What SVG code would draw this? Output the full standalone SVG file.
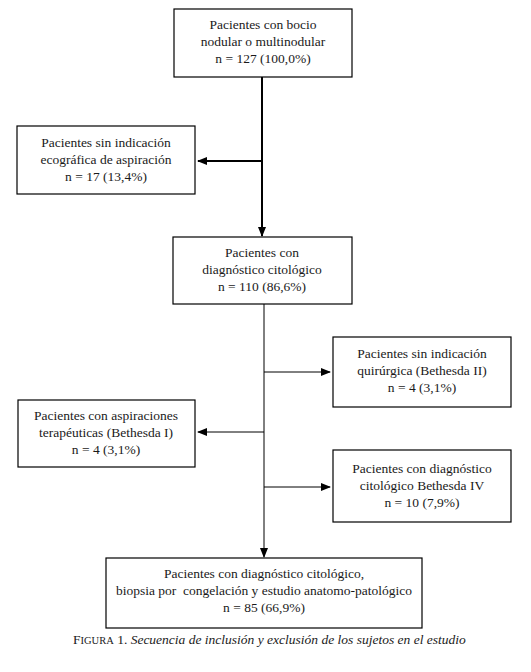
<svg xmlns="http://www.w3.org/2000/svg" width="531" height="672" viewBox="0 0 531 672">
<defs>
<marker id="ah" markerWidth="10" markerHeight="8" refX="9" refY="4" orient="auto" markerUnits="userSpaceOnUse"><path d="M0,0 L10,4 L0,8 Z" fill="#000"/></marker>
</defs>
<style>
.box{fill:#fff;stroke:#000;stroke-width:1.2}
.thick{stroke:#000;stroke-width:2;fill:none}
.thin{stroke:#000;stroke-width:1;fill:none}
</style>
<rect width="531" height="672" fill="#fff"/>
<g id="connectors">
<path class="thick" d="M262,77 L262,236" marker-end="url(#ah)"/>
<path class="thick" d="M262,161 L198,161" marker-end="url(#ah)"/>
<path class="thin" d="M264,304 L264,557" marker-end="url(#ah)"/>
<path class="thin" d="M264,372 L330,372" marker-end="url(#ah)"/>
<path class="thin" d="M264,432 L198,432" marker-end="url(#ah)"/>
<path class="thin" d="M264,487 L330,487" marker-end="url(#ah)"/>
</g>
<g font-family="Liberation Serif" font-size="13.5" fill="#1a1a1a" text-anchor="middle">
<g id="n1">
<rect class="box" x="174" y="9" width="178" height="68"/>
<text x="263" y="29">Pacientes con bocio</text>
<text x="263" y="46">nodular o multinodular</text>
<text x="263" y="63">n = 127 (100,0%)</text>
</g>
<g id="n2">
<rect class="box" x="17" y="126" width="178" height="68"/>
<text x="106" y="147">Pacientes sin indicación</text>
<text x="106" y="164">ecográfica de aspiración</text>
<text x="106" y="181">n = 17 (13,4%)</text>
</g>
<g id="n3">
<rect class="box" x="173" y="237" width="179" height="67"/>
<text x="262" y="257">Pacientes con</text>
<text x="262" y="274">diagnóstico citológico</text>
<text x="262" y="291">n = 110 (86,6%)</text>
</g>
<g id="n4">
<rect class="box" x="333" y="337" width="178" height="70"/>
<text x="422" y="358">Pacientes sin indicación</text>
<text x="422" y="375">quirúrgica (Bethesda II)</text>
<text x="422" y="392">n = 4 (3,1%)</text>
</g>
<g id="n5">
<rect class="box" x="18" y="400" width="177" height="67"/>
<text x="106" y="420">Pacientes con aspiraciones</text>
<text x="106" y="437">terapéuticas (Bethesda I)</text>
<text x="106" y="454">n = 4 (3,1%)</text>
</g>
<g id="n6">
<rect class="box" x="333" y="450" width="178" height="72"/>
<text x="422" y="473">Pacientes con diagnóstico</text>
<text x="422" y="490">citológico Bethesda IV</text>
<text x="422" y="507">n = 10 (7,9%)</text>
</g>
<g id="n7">
<rect class="box" x="106" y="558" width="316" height="70"/>
<text x="264" y="578">Pacientes con diagnóstico citológico,</text>
<text x="264" y="595" xml:space="preserve">biopsia por  congelación y estudio anatomo-patológico</text>
<text x="264" y="612">n = 85 (66,9%)</text>
</g>
</g>
<text font-family="Liberation Serif" font-size="13.5" fill="#1a1a1a" x="73" y="644"><tspan>F</tspan><tspan font-size="10.5">IGURA</tspan><tspan> 1. </tspan><tspan font-style="italic">Secuencia de inclusión y exclusión de los sujetos en el estudio</tspan></text>
</svg>
